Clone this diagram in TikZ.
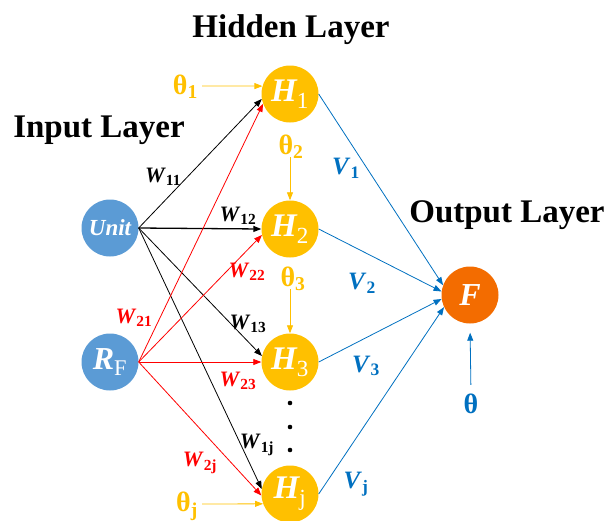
\documentclass[tikz,border=0pt]{standalone}
\usepackage{fontspec}
\setmainfont{Liberation Serif}
\usetikzlibrary{arrows.meta}
\definecolor{nodeblue}{HTML}{5B9BD5}
\definecolor{hyellow}{HTML}{FFC000}
\definecolor{forange}{HTML}{F36C00}
\definecolor{lblue}{HTML}{0070C0}
\definecolor{wred}{HTML}{FF0000}
\newcommand{\fsz}[1]{\fontsize{#1}{#1}\selectfont}
\tikzset{
  neuron/.style={circle, minimum size=57pt, inner sep=0pt, text=white, font=\bfseries\itshape},
  inpnode/.style={neuron, fill=nodeblue},
  hidnode/.style={neuron, fill=hyellow},
  outnode/.style={neuron, fill=forange},
  arr/.style={-{Triangle[length=8pt,width=6pt]}, line width=0.8pt},
  blackarr/.style={arr, black},
  redarr/.style={arr, wred},
  bluearr/.style={arr, lblue},
  yelarr/.style={arr, hyellow},
  lab/.style={inner sep=0pt, font=\bfseries},
  wblack/.style={lab, text=black},
  wredlab/.style={lab, text=wred},
  vlab/.style={lab, text=lblue},
  thlab/.style={lab, text=hyellow},
  titletext/.style={anchor=base, inner sep=0pt, font=\fsz{33}\bfseries},
}
\newcommand{\Wl}[1]{\fsz{22}\textit{W}\textsubscript{#1}}
\newcommand{\Vl}[1]{\fsz{25}\textit{V}\textsubscript{#1}}
\newcommand{\Th}[1]{\fsz{28}θ\textsubscript{#1}}
\newcommand{\Hl}[1]{\fsz{33}H\textsubscript{\normalfont #1}}
\begin{document}
\begin{tikzpicture}[x=1pt,y=-1pt]
\useasboundingbox (0,0) rectangle (608,520);
% titles
\node[titletext] (thid) at (291,37) {Hidden Layer};
\node[titletext] (tinp) at (99,137) {Input Layer};
\node[titletext] (tout) at (507,222) {Output Layer};
% neurons
\node[inpnode] (U) at (110,228) {\fsz{23}Unit};
\node[inpnode] (R) at (110,362) {\fsz{32}R\textsubscript{\normalfont F}};
\node[hidnode] (H1) at (290,94) {\Hl{1}};
\node[hidnode] (H2) at (290,229) {\Hl{2}};
\node[hidnode] (H3) at (290,362) {\Hl{3}};
\node[hidnode] (Hj) at (290,494) {\Hl{j}};
\node[outnode] (F) at (470,295) {\fsz{32}F};
% dots
\fill (290,403) circle (2.3pt);
\fill (290,427) circle (2.3pt);
\fill (290,450) circle (2.3pt);
% thresholds
\node[thlab, anchor=east, inner xsep=4pt] (t1) at (202,87) {\Th{1}};
\node[thlab] (t2) at (291,147) {\Th{2}};
\node[thlab] (t3) at (293,279) {\Th{3}};
\node[thlab, anchor=east, inner xsep=4pt] (tj) at (202,506) {\Th{j}};
\node[lab, text=lblue] (th) at (471,404) {\fsz{28}θ};
\draw[yelarr] (t1.east) ++(0,-1) -- (H1.164);
\draw[yelarr] (t2.south -| H2.north) ++(0,-2) -- (H2.north);
\draw[yelarr] (t3.south -| H3.north) ++(0,-2) -- (H3.north);
\draw[yelarr] (tj.east) ++(0,-2) -- (Hj.200);
\draw[bluearr, shorten <=9pt, shorten >=9pt] (th.north) -- (F.south);
% input to hidden
\draw[blackarr] (U.east) -- (H1.190);
\draw[blackarr, line width=1.3pt] (U.east) -- (H2.west);
\draw[blackarr] (U.east) -- (H3.168);
\draw[blackarr] (U.east) -- (Hj.170);
\draw[redarr] (R.east) -- (H1.200);
\draw[redarr] (R.east) -- (H2.192);
\draw[redarr] (R.east) -- (H3.west);
\draw[redarr] (R.east) -- (Hj.183);
% hidden to output
\draw[bluearr] (H1.east) -- (F.160);
\draw[bluearr] (H2.east) -- (F.173);
\draw[bluearr] (H3.east) -- (F.188);
\draw[bluearr] (Hj.east) -- (F.205);
% weight labels
\node[wblack] (w11) at (163,177) {\Wl{11}};
\node[wblack] (w12) at (238,216) {\Wl{12}};
\node[wblack] (w13) at (248,324) {\Wl{13}};
\node[wblack] (w1j) at (257,445) {\Wl{1j}};
\node[wredlab] (w21) at (134,318) {\Wl{21}};
\node[wredlab] (w22) at (247,272) {\Wl{22}};
\node[wredlab] (w23) at (238,381) {\Wl{23}};
\node[wredlab] (w2j) at (200,463) {\Wl{2j}};
\node[vlab] (v1) at (346,168) {\Vl{1}};
\node[vlab] (v2) at (362,283) {\Vl{2}};
\node[vlab] (v3) at (366,366) {\Vl{3}};
\node[vlab] (vj) at (356,484) {\Vl{j}};
\end{tikzpicture}
\end{document}
